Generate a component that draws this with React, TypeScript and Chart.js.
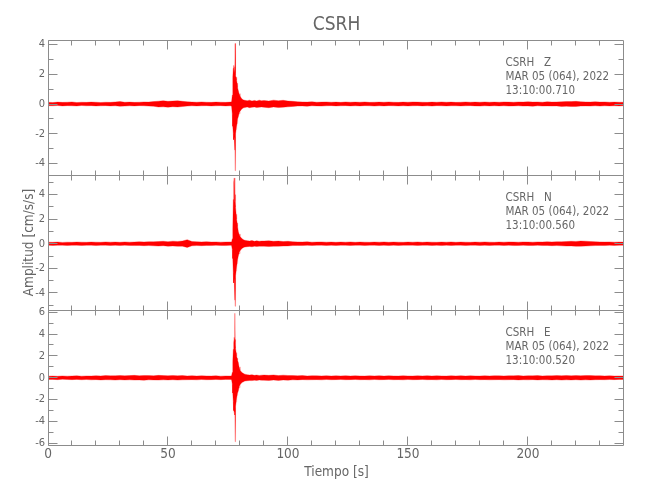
import React, { useEffect, useRef } from 'react';
import { Chart, registerables } from 'chart.js';

Chart.register(...registerables);

// ---------- text ----------
const figureTitle = 'CSRH';
const xAxisTitle = 'Tiempo [s]';
const yAxisTitle = 'Amplitud [cm/s/s]';
const stationCode = 'CSRH';
const componentNames = ['Z', 'N', 'E'];
const dateLabel = 'MAR 05 (064), 2022';
const startTimes = ['13:10:00.710', '13:10:00.560', '13:10:00.520'];

// ---------- axes ----------
const timeTickLabels = [0, 50, 100, 150, 200];
const timeRange = [0, 239.6];
const zTickLabels = [-4, -2, 0, 2, 4];
const nTickLabels = [-4, -2, 0, 2, 4];
const eTickLabels = [-6, -4, -2, 0, 2, 4, 6];
const zRange = [-4.77, 4.3];
const nRange = [-5.4, 5.6];
const eRange = [-6.15, 6.2];

// ---------- data: envelope of each trace (cm/s/s) ----------
const timeSec = [
  // 0 - 76 s
  0, 2, 4, 6, 8, 10, 12, 14, 16, 18, 20, 22, 24, 26, 28, 30, 32, 34, 36, 38,
  40, 42, 44, 46, 48, 50, 52, 54, 56, 58, 60, 62, 64, 66, 68, 70, 72, 74, 76,
  // event
  76.5, 76.8, 77.0, 77.2, 77.4, 77.6, 77.8, 77.9, 78.0, 78.1,
  78.2, 78.4, 78.6, 78.8, 79.0, 79.3, 79.6, 80.0, 80.5, 81.0,
  81.5, 82.0, 83, 84, 85, 86, 87, 88, 89,
  // 90 - 240 s
  90, 92, 94, 96, 98, 100, 102, 104, 106, 108,
  110, 112, 114, 116, 118, 120, 122, 124, 126, 128,
  130, 132, 134, 136, 138, 140, 142, 144, 146, 148,
  150, 152, 154, 156, 158, 160, 162, 164, 166, 168,
  170, 172, 174, 176, 178, 180, 182, 184, 186, 188,
  190, 192, 194, 196, 198, 200, 202, 204, 206, 208,
  210, 212, 214, 216, 218, 220, 222, 224, 226, 228,
  230, 232, 234, 236, 238, 240,
];

const zUpper = [
  0.12, 0.10, 0.13, 0.11, 0.12, 0.14, 0.10, 0.12, 0.11, 0.13,
  0.12, 0.10, 0.12, 0.11, 0.14, 0.16, 0.12, 0.13, 0.11, 0.12,
  0.14, 0.13, 0.16, 0.19, 0.22, 0.18, 0.2, 0.22, 0.18, 0.15,
  0.13, 0.12, 0.14, 0.12, 0.11, 0.13, 0.12, 0.11, 0.13,
  0.15, 0.6, 1.8, 2.4, 2.6, 2.3, 2.5, 2.1, 4.07, 2.0,
  1.9, 1.8, 1.6, 1.4, 1.1, 0.9, 0.7, 0.55, 0.4, 0.32,
  0.27, 0.25, 0.22, 0.26, 0.2, 0.24, 0.2, 0.26, 0.22,
  0.24, 0.2, 0.26, 0.22, 0.25, 0.2, 0.18, 0.15, 0.14, 0.13,
  0.15, 0.12, 0.13, 0.14, 0.12, 0.13, 0.11, 0.14, 0.12, 0.13,
  0.12, 0.14, 0.11, 0.12, 0.13, 0.12, 0.14, 0.12, 0.11, 0.13,
  0.12, 0.14, 0.13, 0.12, 0.11, 0.13, 0.12, 0.14, 0.12, 0.13,
  0.11, 0.12, 0.14, 0.12, 0.13, 0.12, 0.14, 0.12, 0.13, 0.12,
  0.14, 0.13, 0.12, 0.14, 0.13, 0.15, 0.13, 0.14, 0.12, 0.15,
  0.13, 0.14, 0.15, 0.17, 0.16, 0.18, 0.15, 0.14, 0.13, 0.15,
  0.13, 0.14, 0.12, 0.13, 0.12, 0.12,
];
const zLower = [
  -0.11, -0.12, -0.10, -0.13, -0.11, -0.12, -0.13, -0.10, -0.12, -0.11,
  -0.13, -0.12, -0.11, -0.13, -0.12, -0.15, -0.14, -0.12, -0.13, -0.11,
  -0.12, -0.14, -0.15, -0.2, -0.19, -0.21, -0.18, -0.2, -0.17, -0.14,
  -0.12, -0.13, -0.12, -0.11, -0.13, -0.12, -0.11, -0.13, -0.12,
  -0.15, -0.7, -1.5, -2.0, -2.4, -2.2, -3.1, -2.5, -4.48, -2.4,
  -2.0, -1.7, -1.5, -1.3, -1.0, -0.85, -0.65, -0.5, -0.38, -0.3,
  -0.26, -0.24, -0.2, -0.25, -0.22, -0.2, -0.24, -0.21, -0.2,
  -0.22, -0.25, -0.2, -0.24, -0.21, -0.19, -0.16, -0.14, -0.13, -0.15,
  -0.12, -0.13, -0.14, -0.12, -0.11, -0.13, -0.12, -0.11, -0.13, -0.12,
  -0.13, -0.11, -0.12, -0.14, -0.12, -0.13, -0.11, -0.12, -0.13, -0.12,
  -0.13, -0.12, -0.11, -0.13, -0.12, -0.14, -0.11, -0.12, -0.13, -0.12,
  -0.12, -0.13, -0.12, -0.11, -0.13, -0.14, -0.12, -0.13, -0.12, -0.13,
  -0.12, -0.14, -0.13, -0.12, -0.14, -0.13, -0.15, -0.12, -0.14, -0.13,
  -0.14, -0.13, -0.16, -0.15, -0.17, -0.16, -0.14, -0.13, -0.14, -0.12,
  -0.14, -0.12, -0.13, -0.12, -0.13, -0.11,
];

const nUpper = [
  0.13, 0.12, 0.14, 0.11, 0.13, 0.12, 0.14, 0.13, 0.12, 0.14,
  0.13, 0.12, 0.15, 0.13, 0.14, 0.12, 0.15, 0.13, 0.14, 0.16,
  0.15, 0.17, 0.16, 0.18, 0.2, 0.17, 0.21, 0.19, 0.22, 0.33,
  0.18, 0.16, 0.15, 0.17, 0.14, 0.15, 0.13, 0.14, 0.15,
  0.15, 0.4, 1.2, 3.6, 5.0, 5.36, 4.6, 3.5, 3.2, 4.0,
  3.0, 2.4, 2.0, 1.7, 1.4, 1.0, 0.8, 0.6, 0.48, 0.38,
  0.32, 0.28, 0.25, 0.22, 0.26, 0.2, 0.24, 0.2, 0.22,
  0.22, 0.24, 0.2, 0.22, 0.18, 0.2, 0.16, 0.15, 0.14, 0.16,
  0.13, 0.14, 0.15, 0.13, 0.14, 0.12, 0.14, 0.13, 0.15, 0.12,
  0.14, 0.13, 0.12, 0.14, 0.13, 0.15, 0.12, 0.14, 0.13, 0.12,
  0.14, 0.13, 0.15, 0.12, 0.14, 0.13, 0.12, 0.14, 0.13, 0.15,
  0.12, 0.14, 0.13, 0.12, 0.14, 0.13, 0.15, 0.13, 0.12, 0.14,
  0.13, 0.15, 0.14, 0.13, 0.15, 0.14, 0.13, 0.15, 0.14, 0.16,
  0.15, 0.17, 0.16, 0.18, 0.2, 0.19, 0.22, 0.21, 0.18, 0.16,
  0.15, 0.14, 0.15, 0.13, 0.14, 0.13,
];
const nLower = [
  -0.12, -0.14, -0.13, -0.12, -0.14, -0.13, -0.12, -0.14, -0.13, -0.12,
  -0.15, -0.13, -0.12, -0.14, -0.13, -0.15, -0.12, -0.14, -0.15, -0.14,
  -0.16, -0.15, -0.17, -0.19, -0.16, -0.2, -0.18, -0.21, -0.2, -0.3,
  -0.17, -0.15, -0.16, -0.14, -0.15, -0.13, -0.14, -0.15, -0.13,
  -0.15, -0.5, -1.2, -2.4, -3.2, -2.8, -4.6, -3.4, -5.1, -3.0,
  -2.6, -2.2, -1.9, -1.6, -1.3, -1.0, -0.8, -0.6, -0.45, -0.36,
  -0.3, -0.27, -0.24, -0.22, -0.25, -0.2, -0.22, -0.2, -0.21,
  -0.2, -0.23, -0.21, -0.2, -0.19, -0.18, -0.15, -0.14, -0.15, -0.13,
  -0.14, -0.13, -0.12, -0.14, -0.13, -0.14, -0.12, -0.13, -0.14, -0.13,
  -0.12, -0.14, -0.13, -0.12, -0.14, -0.13, -0.15, -0.12, -0.14, -0.13,
  -0.13, -0.12, -0.14, -0.13, -0.12, -0.14, -0.13, -0.15, -0.12, -0.14,
  -0.13, -0.12, -0.14, -0.13, -0.12, -0.14, -0.13, -0.14, -0.13, -0.12,
  -0.14, -0.13, -0.15, -0.14, -0.13, -0.14, -0.15, -0.13, -0.15, -0.14,
  -0.16, -0.15, -0.17, -0.19, -0.18, -0.21, -0.2, -0.19, -0.17, -0.15,
  -0.14, -0.15, -0.13, -0.14, -0.13, -0.12,
];

const eUpper = [
  0.15, 0.16, 0.14, 0.17, 0.15, 0.16, 0.18, 0.15, 0.17, 0.16,
  0.19, 0.17, 0.2, 0.18, 0.19, 0.21, 0.18, 0.2, 0.22, 0.19,
  0.21, 0.2, 0.18, 0.22, 0.2, 0.19, 0.21, 0.18, 0.2, 0.17,
  0.19, 0.16, 0.18, 0.17, 0.16, 0.18, 0.15, 0.17, 0.16,
  0.18, 0.5, 1.5, 2.6, 3.2, 3.7, 3.3, 5.9, 3.0, 3.5,
  2.7, 2.3, 2.0, 1.8, 1.6, 1.4, 1.0, 0.7, 0.55, 0.45,
  0.38, 0.33, 0.28, 0.25, 0.28, 0.22, 0.25, 0.21, 0.24,
  0.25, 0.22, 0.26, 0.2, 0.24, 0.21, 0.2, 0.18, 0.2, 0.17,
  0.19, 0.18, 0.17, 0.19, 0.16, 0.18, 0.17, 0.19, 0.16, 0.18,
  0.17, 0.16, 0.18, 0.17, 0.19, 0.16, 0.18, 0.17, 0.16, 0.18,
  0.17, 0.16, 0.18, 0.17, 0.19, 0.16, 0.18, 0.17, 0.16, 0.18,
  0.17, 0.19, 0.16, 0.18, 0.17, 0.16, 0.18, 0.17, 0.19, 0.18,
  0.17, 0.19, 0.18, 0.2, 0.17, 0.19, 0.18, 0.2, 0.17, 0.19,
  0.18, 0.2, 0.19, 0.21, 0.18, 0.2, 0.19, 0.21, 0.2, 0.18,
  0.19, 0.17, 0.18, 0.16, 0.17, 0.16,
];
const eLower = [
  -0.16, -0.15, -0.17, -0.14, -0.16, -0.17, -0.15, -0.18, -0.16, -0.19,
  -0.17, -0.2, -0.18, -0.19, -0.21, -0.18, -0.2, -0.19, -0.21, -0.2,
  -0.22, -0.19, -0.2, -0.21, -0.19, -0.2, -0.18, -0.21, -0.19, -0.18,
  -0.17, -0.19, -0.16, -0.18, -0.17, -0.16, -0.17, -0.15, -0.16,
  -0.18, -0.6, -1.4, -2.2, -3.0, -3.2, -2.8, -3.4, -5.85, -3.1,
  -2.6, -2.2, -1.9, -1.6, -1.4, -1.2, -0.9, -0.65, -0.5, -0.42,
  -0.36, -0.3, -0.27, -0.25, -0.26, -0.22, -0.24, -0.21, -0.22,
  -0.23, -0.25, -0.21, -0.24, -0.2, -0.22, -0.19, -0.2, -0.17, -0.19,
  -0.18, -0.17, -0.19, -0.16, -0.18, -0.17, -0.16, -0.18, -0.17, -0.16,
  -0.18, -0.17, -0.19, -0.16, -0.18, -0.17, -0.16, -0.18, -0.17, -0.19,
  -0.16, -0.18, -0.17, -0.16, -0.18, -0.17, -0.19, -0.16, -0.18, -0.17,
  -0.16, -0.18, -0.17, -0.19, -0.16, -0.18, -0.17, -0.19, -0.18, -0.17,
  -0.19, -0.18, -0.17, -0.2, -0.18, -0.19, -0.17, -0.2, -0.18, -0.19,
  -0.2, -0.18, -0.21, -0.19, -0.2, -0.18, -0.21, -0.19, -0.2, -0.18,
  -0.17, -0.18, -0.16, -0.17, -0.15, -0.16,
];

// ---------- styles ----------
const FONT = '"DejaVu Sans Condensed", "Liberation Sans", sans-serif';
const TEXT_COLOR = '#666666';
const FRAME_COLOR = '#8c8c8c';
const TRACE_FILL = '#ff0000';
const TRACE_EDGE = 'rgba(255,0,0,0.3)';
const X_MINOR = 10;
const X_MAJOR = 50;

const framePlugin = {
  id: 'panelFrame',
  afterDraw(chart: any) {
    const { ctx, chartArea: a, scales } = chart;
    const xs = scales.x;
    const ys = scales.y;
    const L = Math.floor(a.left) + 0.5;
    const R = Math.floor(a.right) + 0.5;
    const T = Math.floor(a.top) + 0.5;
    const B = Math.floor(a.bottom) + 0.5;
    ctx.save();
    ctx.strokeStyle = FRAME_COLOR;
    ctx.lineWidth = 1;
    ctx.beginPath();
    ctx.rect(L, T, R - L, B - T);
    for (let v = xs.min; v <= xs.max + 1e-9; v += X_MINOR) {
      const px = Math.floor(xs.getPixelForValue(v)) + 0.5;
      const len = Math.abs(v % X_MAJOR) < 1e-6 ? 9 : 5;
      ctx.moveTo(px, T);
      ctx.lineTo(px, T + len);
      ctx.moveTo(px, B);
      ctx.lineTo(px, B - len);
    }
    for (let v = Math.ceil(ys.min); v <= Math.floor(ys.max); v += 1) {
      const py = Math.floor(ys.getPixelForValue(v)) + 0.5;
      const len = Math.abs(v % 2) < 1e-6 ? 9 : 5;
      ctx.moveTo(L, py);
      ctx.lineTo(L + len, py);
      ctx.moveTo(R, py);
      ctx.lineTo(R - len, py);
    }
    ctx.stroke();
    ctx.restore();
  },
};

const textPlugin = {
  id: 'panelText',
  afterDraw(chart: any, _args: any, opts: any) {
    const { ctx, chartArea: a } = chart;
    ctx.save();
    ctx.fillStyle = TEXT_COLOR;
    ctx.textBaseline = 'alphabetic';
    ctx.font = `11.5px ${FONT}`;
    ctx.textAlign = 'left';
    (opts.lines || []).forEach((line: string, k: number) => {
      ctx.fillText(line, a.right - 117.5, a.top + 26 + k * 14.2);
    });
    const cx = (a.left + a.right) / 2 + 1;
    if (opts.title) {
      ctx.font = `19px ${FONT}`;
      ctx.textAlign = 'center';
      ctx.fillText(opts.title, cx, a.top - 10);
    }
    if (opts.xTitle) {
      ctx.font = `13.5px ${FONT}`;
      ctx.textAlign = 'center';
      ctx.fillText(opts.xTitle, cx, a.bottom + 31);
    }
    if (opts.yTitle) {
      ctx.font = `13.5px ${FONT}`;
      ctx.textAlign = 'center';
      ctx.translate(33, (a.top + a.bottom) / 2);
      ctx.rotate(-Math.PI / 2);
      ctx.fillText(opts.yTitle, 0, 0);
    }
    ctx.restore();
  },
};

const traces = [
  { upper: zUpper, lower: zLower, range: zRange, ticks: zTickLabels },
  { upper: nUpper, lower: nLower, range: nRange, ticks: nTickLabels },
  { upper: eUpper, lower: eLower, range: eRange, ticks: eTickLabels },
];

const panelLayout = [
  { canvasTop: 0, canvasHeight: 190, padTop: 40, padBottom: 15, showX: false },
  { canvasTop: 160, canvasHeight: 165, padTop: 15, padBottom: 15, showX: false },
  { canvasTop: 290, canvasHeight: 210, padTop: 20, padBottom: 0, showX: true },
];

function buildConfig(i: number): any {
  const tr = traces[i];
  const lay = panelLayout[i];
  const upperPts = timeSec.map((t, k) => ({ x: t, y: tr.upper[k] }));
  const lowerPts = timeSec.map((t, k) => ({ x: t, y: tr.lower[k] }));
  const common = {
    borderColor: TRACE_EDGE,
    backgroundColor: TRACE_FILL,
    borderWidth: 1,
    pointRadius: 0,
    tension: 0,
  };
  return {
    type: 'line',
    data: {
      datasets: [
        { ...common, data: upperPts, fill: '+1' },
        { ...common, data: lowerPts, fill: false },
      ],
    },
    options: {
      responsive: false,
      animation: false,
      devicePixelRatio: 1,
      events: [],
      layout: { padding: { left: 0, right: 27, top: lay.padTop, bottom: lay.padBottom } },
      plugins: {
        legend: { display: false },
        tooltip: { enabled: false },
        panelText: {
          lines: [`${stationCode}   ${componentNames[i]}`, dateLabel, startTimes[i]],
          title: i === 0 ? figureTitle : null,
          yTitle: i === 1 ? yAxisTitle : null,
          xTitle: i === 2 ? xAxisTitle : null,
        },
      },
      scales: {
        x: {
          type: 'linear',
          min: timeRange[0],
          max: timeRange[1],
          display: lay.showX,
          grid: { display: false, drawTicks: false },
          border: { display: false },
          afterBuildTicks: (scale: any) => {
            scale.ticks = timeTickLabels.map((v) => ({ value: v }));
          },
          afterFit: (scale: any) => {
            scale.height = lay.showX ? 55 : 0;
          },
          ticks: {
            color: TEXT_COLOR,
            font: { family: FONT, size: 13.5 },
            padding: 1,
            maxRotation: 0,
            autoSkip: false,
          },
        },
        y: {
          type: 'linear',
          min: tr.range[0],
          max: tr.range[1],
          grid: { display: false, drawTicks: false },
          border: { display: false },
          afterBuildTicks: (scale: any) => {
            scale.ticks = tr.ticks.map((v) => ({ value: v }));
          },
          afterFit: (scale: any) => {
            scale.width = 48;
          },
          ticks: {
            color: TEXT_COLOR,
            font: { family: FONT, size: 11 },
            padding: 3,
            autoSkip: false,
          },
        },
      },
    },
    plugins: [framePlugin, textPlugin],
  };
}

export default function App() {
  const r0 = useRef<HTMLCanvasElement>(null);
  const r1 = useRef<HTMLCanvasElement>(null);
  const r2 = useRef<HTMLCanvasElement>(null);
  const refs = [r0, r1, r2];

  useEffect(() => {
    const charts = refs.map((r, i) => new Chart(r.current as HTMLCanvasElement, buildConfig(i)));
    return () => charts.forEach((c) => c.destroy());
  }, []);

  return (
    <div style={{ position: 'absolute', left: 0, top: 0, width: 650, height: 500, background: '#ffffff' }}>
      {panelLayout.map((lay, i) => (
        <canvas
          key={i}
          ref={refs[i]}
          width={650}
          height={lay.canvasHeight}
          style={{ position: 'absolute', left: 0, top: lay.canvasTop, width: 650, height: lay.canvasHeight }}
        />
      ))}
    </div>
  );
}
